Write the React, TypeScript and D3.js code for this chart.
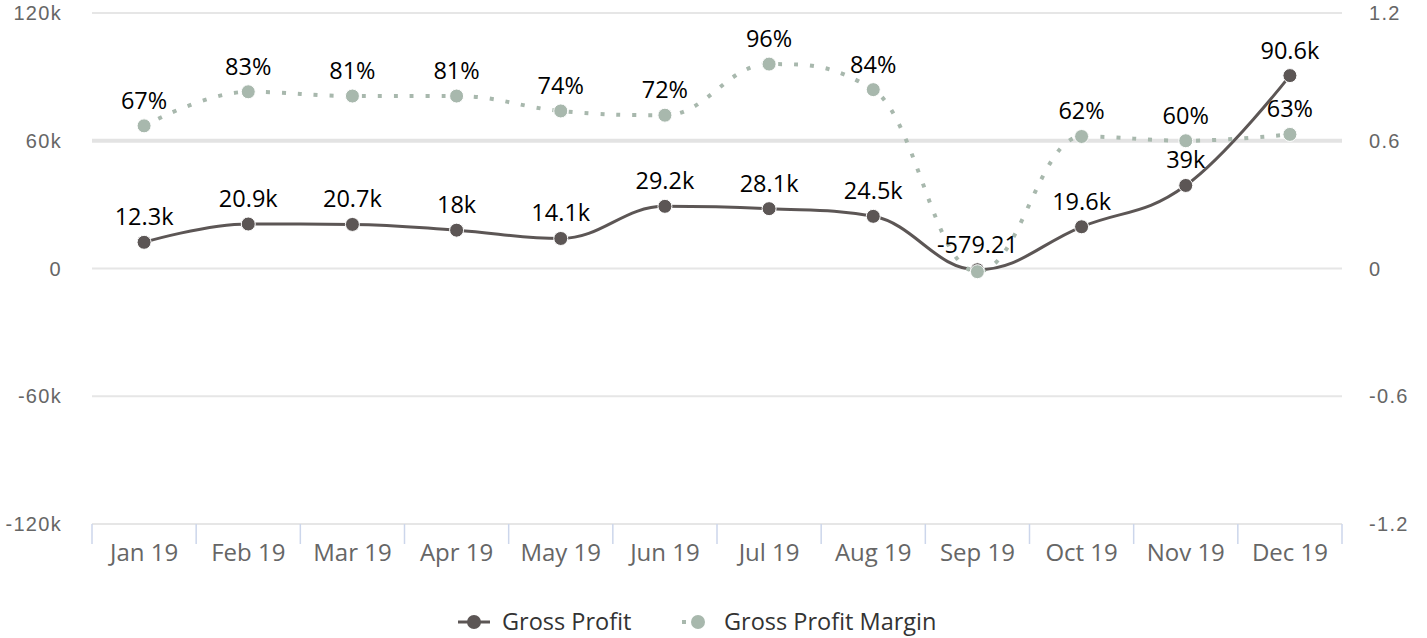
import React from 'react';
import * as d3 from 'd3';

const months = ['Jan 19', 'Feb 19', 'Mar 19', 'Apr 19', 'May 19', 'Jun 19', 'Jul 19', 'Aug 19', 'Sep 19', 'Oct 19', 'Nov 19', 'Dec 19'];
const grossProfit = [12300, 20900, 20700, 18000, 14100, 29200, 28100, 24500, -579.21, 19600, 39000, 90600];
const grossMargin = [0.67, 0.83, 0.81, 0.81, 0.74, 0.72, 0.96, 0.84, -0.015, 0.62, 0.6, 0.63];
const leftTicks = [-120000, -60000, 0, 60000, 120000];
const rightTicks = [-1.2, -0.6, 0, 0.6, 1.2];
const seriesNames = ['Gross Profit', 'Gross Profit Margin'];

const W = 1427;
const H = 638;
const PROFIT_COLOR = '#5c5655';
const MARGIN_COLOR = '#a8b8ad';
const LABEL_FONT = '"Open Sans", "Noto Sans", sans-serif';
const AXIS_FONT = '"Liberation Sans", Arial, sans-serif';

type Pt = [number, number];

// Highcharts-like spline
function splinePath(points: Pt[]): string {
  const p = d3.path();
  const smoothing = 1.5;
  const denom = smoothing + 1;
  const rightCont: (Pt | null)[] = points.map(() => null);
  points.forEach((pt, i) => {
    const [px, py] = pt;
    if (i === 0) {
      p.moveTo(px, py);
      return;
    }
    const last = points[i - 1];
    const next = points[i + 1];
    let lcx = px, lcy = py;
    if (next) {
      const [lx, ly] = last;
      const [nx, ny] = next;
      lcx = (smoothing * px + lx) / denom;
      lcy = (smoothing * py + ly) / denom;
      const rcx = (smoothing * px + nx) / denom;
      let rcy = (smoothing * py + ny) / denom;
      let correction = 0;
      if (rcx !== lcx) {
        correction = ((rcy - lcy) * (rcx - px)) / (rcx - lcx) + py - rcy;
      }
      lcy += correction;
      rcy += correction;
      if (lcy > ly && lcy > py) {
        lcy = Math.max(ly, py);
        rcy = 2 * py - lcy;
      } else if (lcy < ly && lcy < py) {
        lcy = Math.min(ly, py);
        rcy = 2 * py - lcy;
      }
      if (rcy > ny && rcy > py) {
        rcy = Math.max(ny, py);
        lcy = 2 * py - rcy;
      } else if (rcy < ny && rcy < py) {
        rcy = Math.min(ny, py);
        lcy = 2 * py - rcy;
      }
      rightCont[i] = [rcx, rcy];
    }
    const prc = rightCont[i - 1] || last;
    p.bezierCurveTo(prc[0], prc[1], lcx, lcy, px, py);
  });
  return p.toString();
}

const fmtProfit = (v: number) => (Math.abs(v) >= 1000 ? `${+(v / 1000).toFixed(1)}k` : v.toFixed(2));
const fmtMargin = (v: number) => `${Math.round(v * 100)}%`;
const fmtLeft = (v: number) => (v === 0 ? '0' : `${v / 1000}k`);

export default function App() {
  const x = d3.scaleBand<string>().domain(months).range([92, 1342]);
  const cx = (m: string) => (x(m) as number) + x.bandwidth() / 2;
  const yL = d3.scaleLinear().domain([-120000, 120000]).range([524, 13]);
  const yR = d3.scaleLinear().domain([-1.2, 1.2]).range([524, 13]);

  const profitPts: Pt[] = months.map((m, i) => [cx(m), yL(grossProfit[i])]);
  const marginPts: Pt[] = months.map((m, i) => [cx(m), yR(grossMargin[i])]);

  // data labels with simple collision hiding (profit labels have priority)
  const fs = 23.5;
  type Lab = { x: number; y: number; text: string; w: number };
  const profitLabels: Lab[] = profitPts.map((p, i) => {
    const t = fmtProfit(grossProfit[i]);
    return { x: p[0], y: p[1] - 17, text: t, w: t.length * 0.58 * fs };
  });
  const marginLabelsAll: Lab[] = marginPts.map((p, i) => {
    const t = fmtMargin(grossMargin[i]);
    return { x: p[0], y: p[1] - 17, text: t, w: t.length * 0.58 * fs };
  });
  const overlaps = (a: Lab, b: Lab) =>
    Math.abs(a.x - b.x) < (a.w + b.w) / 2 && Math.abs(a.y - b.y) < fs * 0.9;
  const marginLabels = marginLabelsAll.filter((l) => !profitLabels.some((pl) => overlaps(pl, l)));

  const gridYs = leftTicks.map((t) => yL(t));
  const bandEdges = months.map((m) => x(m) as number).concat([x.range()[1]]);

  const legendY = 622;

  return (
    <svg width={W} height={H} style={{ position: 'absolute', left: 0, top: 0, background: '#fff' }}>
      {/* grid */}
      {leftTicks.map((t) => (
        <line
          key={`g${t}`}
          x1={92}
          x2={1342}
          y1={yL(t)}
          y2={yL(t)}
          stroke={t === 60000 ? '#e3e3e3' : '#e6e6e6'}
          strokeWidth={t === 60000 ? 4 : 2}
        />
      ))}
      {/* x ticks */}
      {bandEdges.map((e, i) => (
        <line key={`t${i}`} x1={e} x2={e} y1={gridYs[0]} y2={gridYs[0] + 20} stroke="#ccd6eb" strokeWidth={1.5} />
      ))}
      {/* x labels */}
      {months.map((m) => (
        <text key={m} x={cx(m)} y={561} textAnchor="middle" fontFamily={LABEL_FONT} fontSize={24} fill="#666666">
          {m}
        </text>
      ))}
      {/* left axis labels */}
      {leftTicks.map((t) => (
        <text key={`l${t}`} x={62} y={yL(t) + 7} textAnchor="end" fontFamily={AXIS_FONT} fontSize={20} letterSpacing={1.3} fill="#666666">
          {fmtLeft(t)}
        </text>
      ))}
      {/* right axis labels */}
      {rightTicks.map((t) => (
        <text key={`r${t}`} x={1369} y={yR(t) + 7} textAnchor="start" fontFamily={AXIS_FONT} fontSize={20} letterSpacing={1.3} fill="#666666">
          {String(t)}
        </text>
      ))}

      {/* profit series */}
      <path d={splinePath(profitPts)} fill="none" stroke={PROFIT_COLOR} strokeWidth={3} strokeLinecap="round" />
      {profitPts.map((p, i) => (
        <circle key={`pm${i}`} cx={p[0]} cy={p[1]} r={7} fill={PROFIT_COLOR} stroke="#fff" strokeWidth={1} />
      ))}

      {/* margin series */}
      <path d={splinePath(marginPts)} fill="none" stroke={MARGIN_COLOR} strokeWidth={4} strokeDasharray="4,12" />
      {marginPts.map((p, i) => (
        <circle key={`mm${i}`} cx={p[0]} cy={p[1]} r={7} fill={MARGIN_COLOR} stroke="#fff" strokeWidth={1} />
      ))}

      {/* data labels */}
      {profitLabels.map((l, i) => (
        <text key={`pl${i}`} x={l.x} y={l.y} textAnchor="middle" fontFamily={LABEL_FONT} fontSize={fs} fill="#000">
          {l.text}
        </text>
      ))}
      {marginLabels.map((l, i) => (
        <text key={`ml${i}`} x={l.x} y={l.y} textAnchor="middle" fontFamily={LABEL_FONT} fontSize={fs} fill="#000">
          {l.text}
        </text>
      ))}

      {/* legend */}
      <g>
        <line x1={458} x2={490} y1={legendY} y2={legendY} stroke={PROFIT_COLOR} strokeWidth={3} />
        <circle cx={474} cy={legendY} r={7} fill={PROFIT_COLOR} />
        <text x={502} y={legendY + 8} fontFamily={LABEL_FONT} fontSize={23.5} fill="#333333">
          {seriesNames[0]}
        </text>
        <line x1={682} x2={714} y1={legendY} y2={legendY} stroke={MARGIN_COLOR} strokeWidth={4} strokeDasharray="4,12" />
        <circle cx={698} cy={legendY} r={7} fill={MARGIN_COLOR} />
        <text x={724} y={legendY + 8} fontFamily={LABEL_FONT} fontSize={23.5} fill="#333333">
          {seriesNames[1]}
        </text>
      </g>
    </svg>
  );
}
